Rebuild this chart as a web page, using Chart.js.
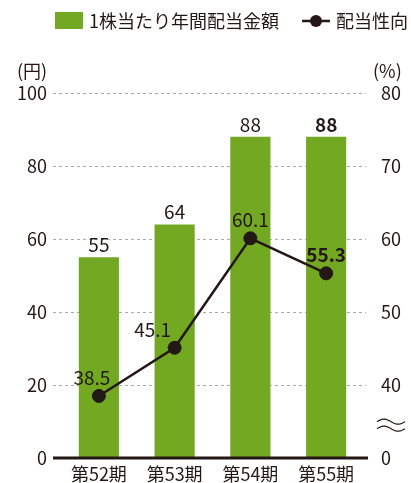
<!DOCTYPE html>
<html lang="ja">
<head>
<meta charset="utf-8">
<script src="https://cdn.jsdelivr.net/npm/chart.js@4"></script>
<style>
  body { margin: 0; background: #fff; }
  canvas { display: block; }
</style>
</head>
<body>
<canvas id="dividendChart" width="411" height="483"></canvas>
<script>
// Chart data
const periods = ['第52期', '第53期', '第54期', '第55期'];
const dividendPerShare = [55, 64, 88, 88];     // 円
const payoutRatio = [38.5, 45.1, 60.1, 55.3];  // %
const leftTicks = [0, 20, 40, 60, 80, 100];
const rightTicks = [30, 40, 50, 60, 70, 80];   // 30 is shown as "0" (axis break)

const BAR_COLOR = '#73a823';
const INK = '#231815';
const FONT = '"Noto Sans CJK JP", "Noto Sans", sans-serif';

// label offsets for the ratio line (x, y from the point)
const ratioLabelShift = [[-7, -18], [-22, -18], [0, -18], [0, -19]];

// Gridlines, baseline, axis break, labels, units and legend
const decorPlugin = {
    id: 'decor',
    beforeDatasetsDraw(chart) {
        const ctx = chart.ctx;
        const area = chart.chartArea;
        const y = chart.scales.y;
        ctx.save();
        ctx.strokeStyle = '#a9a9a9';
        ctx.lineWidth = 1;
        ctx.setLineDash([3, 3]);
        leftTicks.forEach(v => {
            if (v === 0) return;
            const py = Math.round(y.getPixelForValue(v)) + 0.5;
            ctx.beginPath();
            ctx.moveTo(area.left - 8, py);
            ctx.lineTo(area.right + 2, py);
            ctx.stroke();
        });
        ctx.restore();
    },
    afterDatasetsDraw(chart) {
        const ctx = chart.ctx;
        const area = chart.chartArea;
        const x = chart.scales.x;
        const y = chart.scales.y;
        const y2 = chart.scales.y2;
        ctx.save();

        // baseline
        ctx.strokeStyle = INK;
        ctx.lineWidth = 3;
        ctx.beginPath();
        ctx.moveTo(area.left - 8, y.getPixelForValue(0));
        ctx.lineTo(area.right + 4, y.getPixelForValue(0));
        ctx.stroke();

        // category labels
        ctx.fillStyle = INK;
        ctx.textAlign = 'center';
        ctx.textBaseline = 'middle';
        ctx.font = '18px ' + FONT;
        periods.forEach((p, i) => {
            ctx.fillText(p, x.getPixelForValue(i), y.getPixelForValue(0) + 16);
        });

        // bar value labels
        const barMeta = chart.getDatasetMeta(0);
        ctx.textBaseline = 'bottom';
        barMeta.data.forEach((bar, i) => {
            const last = i === dividendPerShare.length - 1;
            ctx.font = (last ? 'bold ' : '') + '19px ' + FONT;
            ctx.fillText(String(dividendPerShare[i]), bar.x, bar.y - 3);
        });

        // ratio labels
        const lineMeta = chart.getDatasetMeta(1);
        ctx.textBaseline = 'middle';
        lineMeta.data.forEach((pt, i) => {
            const last = i === payoutRatio.length - 1;
            ctx.font = (last ? 'bold ' : '') + '19px ' + FONT;
            const s = ratioLabelShift[i];
            ctx.fillText(payoutRatio[i].toFixed(1), pt.x + s[0], pt.y + s[1]);
        });

        // axis break mark on right axis
        const by = y2.getPixelForValue(34.5);
        ctx.strokeStyle = INK;
        ctx.lineWidth = 1.2;
        [-3.5, 3.5].forEach(dy => {
            ctx.beginPath();
            for (let k = 0; k <= 28; k++) {
                const px = 377 + k;
                const py = by + dy - Math.sin(k / 28 * Math.PI * 2) * 2.5;
                if (k === 0) ctx.moveTo(px, py); else ctx.lineTo(px, py);
            }
            ctx.stroke();
        });

        // units
        ctx.font = '18px ' + FONT;
        ctx.textBaseline = 'middle';
        ctx.textAlign = 'left';
        ctx.fillText('(円)', 17, 71);
        ctx.fillText('(%)', 373, 71);

        // legend
        ctx.fillStyle = BAR_COLOR;
        ctx.fillRect(55, 12, 28, 17);
        ctx.fillStyle = INK;
        ctx.font = '18px ' + FONT;
        ctx.fillText('1株当たり年間配当金額', 89, 21);
        ctx.lineWidth = 2.5;
        ctx.beginPath();
        ctx.moveTo(302, 21);
        ctx.lineTo(330, 21);
        ctx.stroke();
        ctx.beginPath();
        ctx.arc(316, 21, 6, 0, Math.PI * 2);
        ctx.fill();
        ctx.fillText('配当性向', 336, 21);

        ctx.restore();
    }
};

const ctx = document.getElementById('dividendChart').getContext('2d');
new Chart(ctx, {
    type: 'bar',
    data: {
        labels: periods,
        datasets: [{
            type: 'bar',
            label: '1株当たり年間配当金額',
            data: dividendPerShare,
            backgroundColor: BAR_COLOR,
            barPercentage: 0.53,
            categoryPercentage: 1,
            yAxisID: 'y',
            order: 2
        }, {
            type: 'line',
            label: '配当性向',
            data: payoutRatio,
            borderColor: INK,
            borderWidth: 2.5,
            pointBackgroundColor: INK,
            pointBorderColor: INK,
            pointBorderWidth: 1,
            pointRadius: 6.5,
            tension: 0,
            yAxisID: 'y2',
            order: 1
        }]
    },
    options: {
        responsive: false,
        animation: false,
        layout: { padding: { top: 93, left: 0, right: 0, bottom: 0 } },
        plugins: {
            legend: { display: false },
            tooltip: { enabled: false }
        },
        scales: {
            x: {
                offset: true,
                grid: { display: false },
                border: { display: false },
                ticks: { display: false },
                afterFit(scale) { scale.height = 25; }
            },
            y: {
                position: 'left',
                min: 0,
                max: 100,
                afterBuildTicks(scale) { scale.ticks = leftTicks.map(v => ({ value: v })); },
                grid: { display: false },
                border: { display: false },
                ticks: {
                    color: INK,
                    font: { family: FONT, size: 18 },
                    padding: 6
                },
                afterFit(scale) { scale.width = 61; }
            },
            y2: {
                position: 'right',
                min: 30,
                max: 80,
                afterBuildTicks(scale) { scale.ticks = rightTicks.map(v => ({ value: v })); },
                grid: { display: false },
                border: { display: false },
                ticks: {
                    color: INK,
                    font: { family: FONT, size: 18 },
                    padding: 9,
                    callback: v => (v === 30 ? '0' : String(v))
                },
                afterFit(scale) { scale.width = 47; }
            }
        }
    },
    plugins: [decorPlugin]
});
</script>
</body>
</html>
